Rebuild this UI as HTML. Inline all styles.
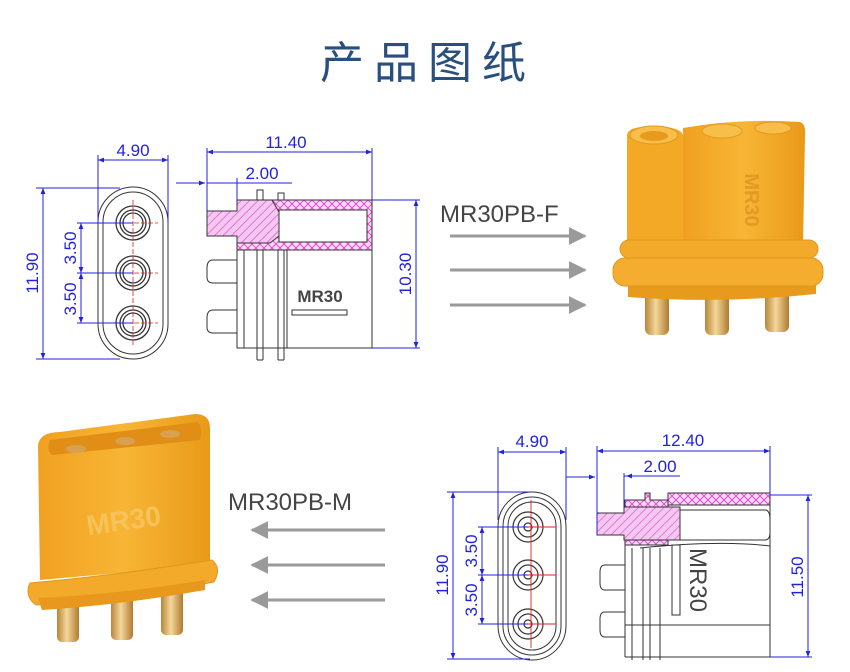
<!DOCTYPE html>
<html><head><meta charset="utf-8"><style>
html,body{margin:0;padding:0;background:#fff;}
svg{display:block;}
</style></head><body>
<svg width="850" height="672" viewBox="0 0 850 672" xmlns="http://www.w3.org/2000/svg" font-family="Liberation Sans, sans-serif">
<defs>
<pattern id="hatch" width="6" height="6" patternUnits="userSpaceOnUse" patternTransform="rotate(45)">
<rect width="6" height="6" fill="#f4c8f0"/><line x1="0" y1="0" x2="0" y2="6" stroke="#e040d0" stroke-width="1.2"/></pattern>
<pattern id="cross" width="8" height="8" patternUnits="userSpaceOnUse">
<rect width="8" height="8" fill="#f8d8f4"/><path d="M0 0L8 8M8 0L0 8" stroke="#e040d0" stroke-width="0.9"/></pattern>
<marker id="ab" viewBox="0 0 10 10" refX="10" refY="5" markerWidth="8" markerHeight="6" orient="auto-start-reverse"><path d="M0 1L10 5L0 9z" fill="#2222dd"/></marker>
<marker id="ga" viewBox="0 0 10 10" refX="9" refY="5" markerWidth="6" markerHeight="6" orient="auto"><path d="M0 0L10 5L0 10z" fill="#9a9a9a"/></marker>
<linearGradient id="gold" x1="0" x2="1"><stop offset="0" stop-color="#b9853a"/><stop offset="0.45" stop-color="#f4d79a"/><stop offset="1" stop-color="#b07a30"/></linearGradient>
<linearGradient id="org" x1="0" x2="1"><stop offset="0" stop-color="#f0a020"/><stop offset="0.5" stop-color="#f8b535"/><stop offset="1" stop-color="#e89a18"/></linearGradient>
</defs>

<text x="428" y="78" text-anchor="middle" font-size="44" fill="#2a4f7f" letter-spacing="10" font-family="Liberation Sans, Noto Sans CJK SC, sans-serif">产品图纸</text>

<!-- ===== TOP LEFT DRAWING ===== -->
<g fill="none" stroke="#333" stroke-width="1">
<rect x="98" y="187" width="70" height="172" rx="35"/>
<rect x="103" y="192" width="60" height="162" rx="30"/>
<g stroke-width="1.3">
<circle cx="133" cy="223" r="17"/><circle cx="133" cy="223" r="13"/><circle cx="133" cy="223" r="10"/>
<circle cx="133" cy="273" r="17"/><circle cx="133" cy="273" r="13"/><circle cx="133" cy="273" r="10"/>
<circle cx="133" cy="323" r="17"/><circle cx="133" cy="323" r="13"/><circle cx="133" cy="323" r="10"/>
</g>
</g>
<g stroke="#e02020" stroke-width="0.8" stroke-dasharray="5 2">
<line x1="133" y1="200" x2="133" y2="346"/>
<line x1="113" y1="223" x2="158" y2="223"/><line x1="113" y1="273" x2="158" y2="273"/><line x1="113" y1="323" x2="158" y2="323"/>
</g>
<g stroke="#2222dd" stroke-width="1" fill="none">
<line x1="98" y1="160" x2="168" y2="160" marker-start="url(#ab)" marker-end="url(#ab)"/>
<line x1="98" y1="155" x2="98" y2="225"/><line x1="168" y1="155" x2="168" y2="225"/>
<line x1="36" y1="188" x2="120" y2="188"/><line x1="36" y1="359" x2="120" y2="359"/>
<line x1="43" y1="188" x2="43" y2="359" marker-start="url(#ab)" marker-end="url(#ab)"/>
<line x1="77" y1="223" x2="133" y2="223"/><line x1="77" y1="273" x2="133" y2="273"/><line x1="77" y1="323" x2="133" y2="323"/>
<line x1="81" y1="223" x2="81" y2="273" marker-start="url(#ab)" marker-end="url(#ab)"/>
<line x1="81" y1="273" x2="81" y2="323" marker-start="url(#ab)" marker-end="url(#ab)"/>
</g>
<g fill="#2222dd" font-size="17">
<text x="133" y="156" text-anchor="middle">4.90</text>
<text transform="translate(38 273) rotate(-90)" text-anchor="middle">11.90</text>
<text transform="translate(76 248) rotate(-90)" text-anchor="middle">3.50</text>
<text transform="translate(76 299) rotate(-90)" text-anchor="middle">3.50</text>
</g>

<!-- side view top -->
<rect x="237" y="200" width="135" height="50" fill="url(#cross)" stroke="#333"/>
<path d="M207 211 H237 V200 H272 L279 212 L279 236 L270 243 L237 243 V236 H207 Z" fill="url(#hatch)" stroke="#333"/>
<rect x="279" y="210" width="88" height="32" fill="#fff" stroke="#333"/>
<g fill="none" stroke="#333" stroke-width="1">
<path d="M257 200 V190 H263 V200 M278 200 V193 H284 V200"/>
<rect x="237" y="250" width="135" height="98"/>
<line x1="287" y1="250" x2="287" y2="348"/>
<line x1="244" y1="250" x2="244" y2="348"/>
<line x1="257" y1="250" x2="257" y2="360"/><line x1="263" y1="250" x2="263" y2="360"/><line x1="257" y1="360" x2="263" y2="360"/>
<line x1="278" y1="250" x2="278" y2="360"/><line x1="284" y1="250" x2="284" y2="360"/><line x1="278" y1="360" x2="284" y2="360"/>
<path d="M237 260 H213 Q207 260 207 268 V277 Q207 283 213 283 H237"/>
<path d="M237 310 H213 Q207 310 207 318 V327 Q207 333 213 333 H237"/>
<rect x="292" y="310" width="55" height="5"/>
</g>
<text x="320" y="302" text-anchor="middle" font-size="17" font-weight="bold" fill="#444">MR30</text>
<g stroke="#2222dd" stroke-width="1" fill="none">
<line x1="207" y1="152" x2="372" y2="152" marker-start="url(#ab)" marker-end="url(#ab)"/>
<line x1="207" y1="148" x2="207" y2="211"/><line x1="372" y1="148" x2="372" y2="200"/>
<line x1="176" y1="183" x2="205" y2="183" marker-end="url(#ab)"/>
<line x1="207" y1="183" x2="292" y2="183"/><line x1="237" y1="178" x2="237" y2="200"/>
<line x1="372" y1="200" x2="420" y2="200"/><line x1="372" y1="348" x2="420" y2="348"/>
<line x1="416" y1="200" x2="416" y2="348" marker-start="url(#ab)" marker-end="url(#ab)"/>
</g>
<g fill="#2222dd" font-size="17">
<text x="286" y="148" text-anchor="middle">11.40</text>
<text x="262" y="179" text-anchor="middle">2.00</text>
<text transform="translate(411 274) rotate(-90)" text-anchor="middle">10.30</text>
</g>

<!-- arrows top -->
<text x="440" y="222" font-size="24" fill="#444">MR30PB-F</text>
<g stroke="#9a9a9a" stroke-width="3" marker-end="url(#ga)">
<line x1="450" y1="236" x2="585" y2="236"/><line x1="450" y1="270" x2="585" y2="270"/><line x1="450" y1="305" x2="585" y2="305"/>
</g>

<!-- female photo -->
<g>
<rect x="645" y="292" width="24" height="43" rx="6" fill="url(#gold)"/>
<rect x="705" y="292" width="24" height="43" rx="6" fill="url(#gold)"/>
<rect x="765" y="290" width="24" height="42" rx="6" fill="url(#gold)"/>
<path d="M628 284 H816 V294 Q720 304 628 297 Z" fill="#e89a1c"/>
<path d="M683 128 Q740 118 800 122 Q806 124 805 135 L803 245 L683 250 Z" fill="url(#org)"/>
<path d="M627 135 Q628 126 652 127 Q680 126 683 135 L683 250 L627 250 Z" fill="#f3a826"/>
<ellipse cx="654" cy="135" rx="24" ry="9" fill="#f8be4a" stroke="#e09a20"/>
<ellipse cx="654" cy="136" rx="14" ry="5" fill="#e89a1c"/>
<ellipse cx="722" cy="131" rx="20" ry="7" fill="#f8be4a" stroke="#e09a20"/>
<ellipse cx="773" cy="128" rx="18" ry="6" fill="#f8be4a" stroke="#e09a20"/>
<rect x="620" y="240" width="198" height="18" rx="9" fill="#f3aa2a" stroke="#e0961c"/>
<rect x="613" y="258" width="210" height="28" rx="12" fill="#f4ad2e" stroke="#e0961c"/>
<text transform="translate(745 200) rotate(90)" text-anchor="middle" font-size="20" fill="#e29a22" font-weight="bold">MR30</text>
</g>

<!-- ===== BOTTOM ===== -->
<!-- male photo -->
<g>
<rect x="57" y="592" width="22" height="50" rx="5" fill="url(#gold)"/>
<rect x="111" y="590" width="22" height="50" rx="5" fill="url(#gold)"/>
<rect x="161" y="588" width="22" height="47" rx="5" fill="url(#gold)"/>
<path d="M38 445 Q40 432 60 432 L195 414 Q210 414 210 428 L210 565 L40 580 Z" fill="url(#org)"/>
<path d="M50 440 L198 422 Q203 428 200 440 L52 455 Q46 450 50 440 Z" fill="#e08e16"/>
<ellipse cx="76" cy="449" rx="10" ry="4" fill="#d8a050"/>
<ellipse cx="125" cy="441" rx="10" ry="4" fill="#d8a050"/>
<ellipse cx="170" cy="434" rx="10" ry="4" fill="#d8a050"/>
<path d="M30 583 Q120 575 212 560 Q222 568 214 582 Q120 600 36 605 Q24 596 30 583 Z" fill="#f3aa2a" stroke="#e0961c"/>
<path d="M38 598 Q120 594 205 580 L205 590 Q120 605 42 610 Z" fill="#e8981c"/>
<text x="125" y="530" text-anchor="middle" font-size="28" fill="#f6c35a" font-weight="bold" transform="rotate(-8 125 530)">MR30</text>
</g>

<text x="228" y="510" font-size="24" fill="#444">MR30PB-M</text>
<g stroke="#9a9a9a" stroke-width="3" marker-end="url(#ga)">
<line x1="385" y1="530" x2="252" y2="530"/><line x1="385" y1="565" x2="252" y2="565"/><line x1="385" y1="600" x2="252" y2="600"/>
</g>

<!-- bottom right front view -->
<g fill="none" stroke="#333" stroke-width="1">
<rect x="498" y="492" width="68" height="168" rx="34"/>
<rect x="503" y="497" width="58" height="158" rx="29"/>
<rect x="508" y="502" width="48" height="148" rx="24"/>
<g stroke-width="1.2">
<circle cx="528" cy="527" r="15"/><circle cx="528" cy="527" r="10"/><circle cx="528" cy="527" r="4"/>
<circle cx="528" cy="575" r="15"/><circle cx="528" cy="575" r="10"/><circle cx="528" cy="575" r="4"/>
<circle cx="528" cy="624" r="15"/><circle cx="528" cy="624" r="10"/><circle cx="528" cy="624" r="4"/>
</g>
</g>
<g stroke="#e02020" stroke-width="0.9">
<line x1="531" y1="500" x2="531" y2="648"/>
<line x1="515" y1="527" x2="556" y2="527"/><line x1="515" y1="575" x2="556" y2="575"/><line x1="515" y1="624" x2="556" y2="624"/>
</g>
<g stroke="#2222dd" stroke-width="1" fill="none">
<line x1="498" y1="452" x2="566" y2="452" marker-start="url(#ab)" marker-end="url(#ab)"/>
<line x1="498" y1="447" x2="498" y2="520"/><line x1="566" y1="447" x2="566" y2="520"/>
<line x1="566" y1="477" x2="595" y2="477" marker-end="url(#ab)"/>
<line x1="447" y1="492" x2="530" y2="492"/><line x1="447" y1="659" x2="530" y2="659"/>
<line x1="453" y1="492" x2="453" y2="659" marker-start="url(#ab)" marker-end="url(#ab)"/>
<line x1="478" y1="527" x2="528" y2="527"/><line x1="478" y1="575" x2="528" y2="575"/><line x1="478" y1="624" x2="528" y2="624"/>
<line x1="482" y1="527" x2="482" y2="575" marker-start="url(#ab)" marker-end="url(#ab)"/>
<line x1="482" y1="575" x2="482" y2="624" marker-start="url(#ab)" marker-end="url(#ab)"/>
</g>
<g fill="#2222dd" font-size="17">
<text x="532" y="447" text-anchor="middle">4.90</text>
<text transform="translate(448 575) rotate(-90)" text-anchor="middle">11.90</text>
<text transform="translate(477 551) rotate(-90)" text-anchor="middle">3.50</text>
<text transform="translate(477 600) rotate(-90)" text-anchor="middle">3.50</text>
</g>

<!-- bottom right side view -->
<rect x="668" y="493" width="102" height="12" fill="url(#cross)" stroke="#333"/>
<path d="M625 500 H645 V493 H650 V500 H668 V545 H625 Z" fill="url(#cross)" stroke="#333"/>
<path d="M597 513 H624 V507 H680 V540 H624 V535 H597 Z" fill="url(#hatch)" stroke="#333"/>
<g fill="none" stroke="#333" stroke-width="1">
<path d="M680 510 H765 Q770 510 770 520 V532 Q770 540 765 540 H680"/>
<path d="M640 548 Q720 540 770 546"/>
<line x1="770" y1="505" x2="770" y2="657"/>
<line x1="625" y1="545" x2="625" y2="657"/><line x1="625" y1="657" x2="770" y2="657"/>
<line x1="632" y1="548" x2="632" y2="660"/><line x1="643" y1="548" x2="643" y2="660"/>
<line x1="650" y1="548" x2="650" y2="660"/><line x1="660" y1="548" x2="660" y2="660"/>
<rect x="672" y="545" width="8" height="70"/>
<line x1="625" y1="625" x2="770" y2="625"/>
<path d="M625 565 H605 Q600 565 600 572 V583 Q600 590 605 590 H625"/>
<path d="M625 612 H605 Q600 612 600 619 V630 Q600 637 605 637 H625"/>
</g>
<text transform="translate(690 580) rotate(90)" text-anchor="middle" font-size="24" fill="#444">MR30</text>
<g stroke="#2222dd" stroke-width="1" fill="none">
<line x1="597" y1="451" x2="770" y2="451" marker-start="url(#ab)" marker-end="url(#ab)"/>
<line x1="597" y1="446" x2="597" y2="535"/><line x1="770" y1="446" x2="770" y2="493"/>
<line x1="624" y1="476" x2="680" y2="476"/><line x1="624" y1="473" x2="624" y2="507"/>
<line x1="640" y1="476" x2="626" y2="476" marker-end="url(#ab)"/>
<line x1="770" y1="495" x2="812" y2="495"/><line x1="770" y1="657" x2="812" y2="657"/>
<line x1="808" y1="495" x2="808" y2="657" marker-start="url(#ab)" marker-end="url(#ab)"/>
</g>
<g fill="#2222dd" font-size="17">
<text x="683" y="446" text-anchor="middle">12.40</text>
<text x="660" y="472" text-anchor="middle">2.00</text>
<text transform="translate(803 577) rotate(-90)" text-anchor="middle">11.50</text>
</g>
</svg>
</body></html>
